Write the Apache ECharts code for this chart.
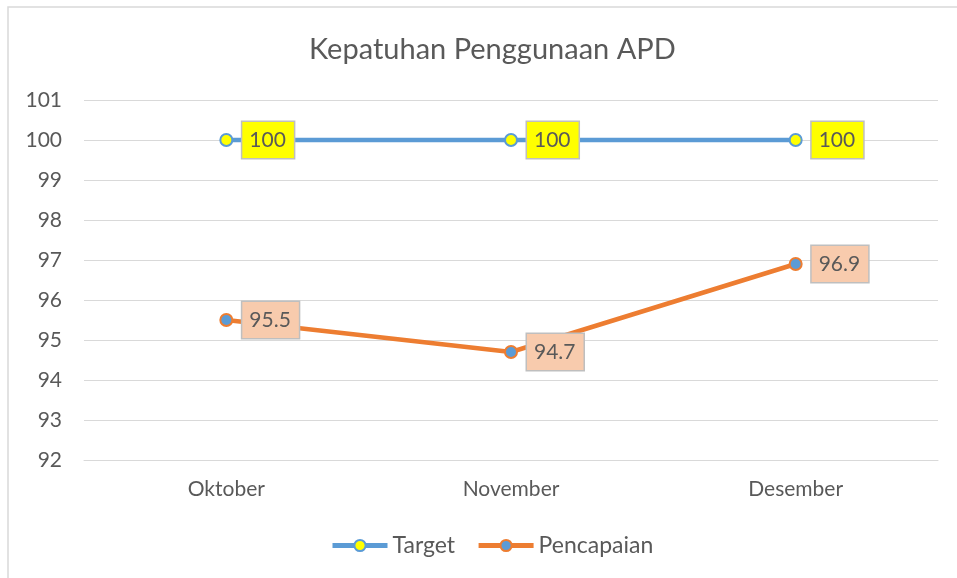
<!DOCTYPE html>
<html>
<head>
<meta charset="utf-8">
<script src="https://cdn.jsdelivr.net/npm/echarts@6/dist/echarts.min.js"></script>
<style>
html,body{margin:0;padding:0;background:#fff;}
#chart{width:957px;height:578px;}
</style>
</head>
<body>
<div id="chart"></div>
<script>
const categories = ['Oktober', 'November', 'Desember'];
const targetValues = [100, 100, 100];
const pencapaianValues = [95.5, 94.7, 96.9];
const seriesNames = ['Target', 'Pencapaian'];
const titleText = 'Kepatuhan Penggunaan APD';

const FONT = 'Lato';
const TXT = '#595959';
const chart = echarts.init(document.getElementById('chart'));

function labelCfg(bg) {
  return {
    show: true,
    position: 'right',
    distance: 9,
    color: TXT,
    fontFamily: FONT,
    fontSize: 21,
    lineHeight: 22,
    backgroundColor: bg,
    borderColor: '#bfbfbf',
    borderWidth: 1.5,
    padding: [7, 8, 7, 7]
  };
}

chart.setOption({
  backgroundColor: '#fff',
  animation: false,
  graphic: [{
    type: 'rect',
    shape: { x: 8, y: 7, width: 960, height: 600 },
    style: { fill: 'none', stroke: '#d9d9d9', lineWidth: 1.5 },
    silent: true, z: -10
  }],
  title: {
    text: titleText,
    left: 304,
    top: 30,
    textStyle: { fontFamily: FONT, fontSize: 29, fontWeight: 'normal', color: TXT }
  },
  legend: {
    data: [
      { name: seriesNames[0], lineStyle: { width: 5 } },
      { name: seriesNames[1], lineStyle: { width: 5 } }
    ],
    bottom: 16,
    left: 325,
    itemWidth: 55,
    itemHeight: 14,
    itemGap: 21,
    itemStyle: { borderWidth: 2 },
    textStyle: { fontFamily: FONT, fontSize: 23, color: TXT }
  },
  grid: { left: 84, right: 19, top: 100, bottom: 118 },
  xAxis: {
    type: 'category',
    data: categories,
    axisLine: { show: true, lineStyle: { color: '#d9d9d9', width: 1 } },
    axisTick: { show: false },
    axisLabel: { fontFamily: FONT, fontSize: 21, color: TXT, margin: 19 }
  },
  yAxis: {
    type: 'value',
    min: 92,
    max: 101,
    interval: 1,
    axisLine: { show: false },
    axisTick: { show: false },
    axisLabel: { fontFamily: FONT, fontSize: 21, color: TXT, margin: 22 },
    splitLine: { lineStyle: { color: '#d9d9d9', width: 1 } }
  },
  series: [
    {
      name: seriesNames[0],
      type: 'line',
      data: targetValues,
      symbol: 'circle',
      symbolSize: 12,
      lineStyle: { color: '#5b9bd5', width: 4.5 },
      itemStyle: { color: '#ffff00', borderColor: '#5b9bd5', borderWidth: 2 },
      label: labelCfg('#ffff00'),
      z: 3
    },
    {
      name: seriesNames[1],
      type: 'line',
      data: pencapaianValues,
      symbol: 'circle',
      symbolSize: 12,
      lineStyle: { color: '#ed7d31', width: 4.5 },
      itemStyle: { color: '#5b9bd5', borderColor: '#ed7d31', borderWidth: 2 },
      label: labelCfg('#f8cbad'),
      z: 3
    }
  ]
});
</script>
</body>
</html>
